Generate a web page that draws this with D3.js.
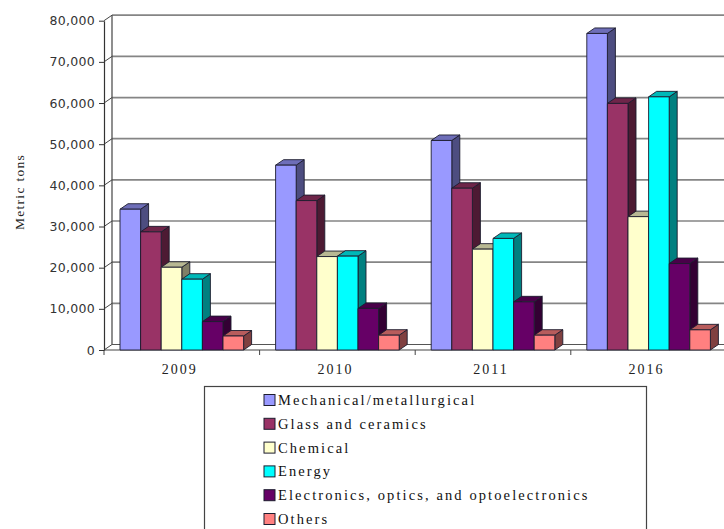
<!DOCTYPE html>
<html>
<head>
<meta charset="utf-8">
<script src="https://cdn.jsdelivr.net/npm/d3@7"></script>
<style>
  html, body { margin: 0; padding: 0; background: #fff; }
  svg { display: block; }
</style>
</head>
<body>
<svg id="chart" width="724" height="529"></svg>
<script>
// Years along the category axis
const years = ["2009", "2010", "2011", "2016"];

// Series names (legend order)
const seriesNames = [
  "Mechanical/metallurgical",
  "Glass and ceramics",
  "Chemical",
  "Energy",
  "Electronics, optics, and optoelectronics",
  "Others"
];

// Metric tons per year, one array per series
const mechanical  = [34200, 44900, 50900, 76900];
const glass       = [28700, 36300, 39300, 59900];
const chemical    = [20100, 22700, 24500, 32400];
const energy      = [17200, 22800, 27100, 61500];
const electronics = [6900, 10100, 11700, 21000];
const others      = [3400, 3600, 3600, 4900];

const seriesValues = [mechanical, glass, chemical, energy, electronics, others];
const seriesColors = ["#9999ff", "#993366", "#ffffcc", "#00ffff", "#660066", "#ff8080"];

// Value axis ticks
const yTicks = [0, 10000, 20000, 30000, 40000, 50000, 60000, 70000, 80000];

const svg = d3.select("#chart");

// Plot frame (front plane) and 3-D depth offset
const plotLeft = 104, plotBottom = 350, plotTop = 20.7;
const bandW = 155.6;
const depthX = 8, depthY = 5.5;
const rightEdge = 740;

const y = d3.scaleLinear().domain([0, 80000]).range([plotBottom, plotTop]);
const x0 = d3.scaleBand().domain(years).range([plotLeft, plotLeft + bandW * years.length]);
const x1 = d3.scaleBand().domain(seriesNames).range([16, bandW - 16]);

const gridColor = "#858585";

// Back wall gridlines with diagonal side-wall segments
const grid = svg.append("g");
yTicks.forEach(t => {
  const yy = y(t);
  if (t !== 0) {
    grid.append("line")
      .attr("x1", plotLeft + depthX).attr("y1", yy - depthY)
      .attr("x2", rightEdge).attr("y2", yy - depthY)
      .attr("stroke", gridColor).attr("stroke-width", 1.7);
  }
  grid.append("line")
    .attr("x1", plotLeft).attr("y1", yy)
    .attr("x2", plotLeft + depthX).attr("y2", yy - depthY)
    .attr("stroke", "#444").attr("stroke-width", 1);
});

// Back wall left edge
grid.append("line")
  .attr("x1", plotLeft + depthX).attr("y1", y(80000) - depthY)
  .attr("x2", plotLeft + depthX).attr("y2", y(0) - depthY)
  .attr("stroke", "#444").attr("stroke-width", 1.2);

// Floor: back and front edges
grid.append("line")
  .attr("x1", plotLeft + depthX).attr("y1", y(0) - depthY)
  .attr("x2", rightEdge).attr("y2", y(0) - depthY)
  .attr("stroke", "#555").attr("stroke-width", 1.2);
grid.append("line")
  .attr("x1", plotLeft).attr("y1", y(0))
  .attr("x2", rightEdge).attr("y2", y(0))
  .attr("stroke", "#444").attr("stroke-width", 1.2);

// Category boundary ticks
const catTicks = years.map(yr => x0(yr)).concat([x0(years[years.length - 1]) + x0.bandwidth()]);
svg.append("g").selectAll("line").data(catTicks).join("line")
  .attr("x1", d => d).attr("x2", d => d)
  .attr("y1", y(0)).attr("y2", y(0) + 5)
  .attr("stroke", "#444").attr("stroke-width", 1);

// 3-D columns: side, top, then front face, drawn left to right
const shade = (c, k) => { const r = d3.rgb(c); return d3.rgb(r.r * k, r.g * k, r.b * k).toString(); };
const bars = [];
years.forEach((yr, i) => {
  seriesNames.forEach((s, j) => {
    bars.push({ year: yr, series: s, value: seriesValues[j][i], color: seriesColors[j] });
  });
});

const barG = svg.append("g");
bars.forEach(b => {
  const xl = x0(b.year) + x1(b.series);
  const w = x1.bandwidth();
  const yt = y(b.value);
  const yb = y(0);
  const g = barG.append("g").attr("stroke", "#1c1c2e").attr("stroke-width", 0.9).attr("stroke-linejoin", "round");
  // side face
  g.append("path")
    .attr("d", `M${xl + w},${yb} L${xl + w + depthX},${yb - depthY} L${xl + w + depthX},${yt - depthY} L${xl + w},${yt} Z`)
    .attr("fill", shade(b.color, 0.5));
  // top face
  g.append("path")
    .attr("d", `M${xl},${yt} L${xl + depthX},${yt - depthY} L${xl + w + depthX},${yt - depthY} L${xl + w},${yt} Z`)
    .attr("fill", shade(b.color, 0.72));
  // front face
  g.append("rect")
    .attr("x", xl).attr("y", yt).attr("width", w).attr("height", yb - yt)
    .attr("fill", b.color);
});

// Value axis on the front plane
const yAxis = d3.axisLeft(y).tickValues(yTicks).tickFormat(d3.format(",")).tickSize(5).tickSizeOuter(0).tickPadding(4);
const ya = svg.append("g").attr("transform", `translate(${plotLeft},0)`).call(yAxis);
ya.select(".domain").attr("stroke", "#333").attr("stroke-width", 1.2);
ya.selectAll(".tick line").attr("stroke", "#333");
ya.selectAll(".tick text")
  .attr("fill", "#333")
  .style("font-family", "'DejaVu Sans', sans-serif")
  .style("font-size", "12.5px")
  .style("letter-spacing", "0.3px");

// Category labels
svg.append("g").selectAll("text").data(years).join("text")
  .attr("x", d => x0(d) + x0.bandwidth() / 2 - 2)
  .attr("y", 374)
  .attr("text-anchor", "middle")
  .attr("fill", "#222")
  .style("font-family", "'Liberation Serif', serif")
  .style("font-size", "14px")
  .style("letter-spacing", "2px")
  .text(d => d);

// Value axis title
svg.append("text")
  .attr("transform", "translate(24,192) rotate(-90)")
  .attr("text-anchor", "middle")
  .attr("fill", "#222")
  .style("font-family", "'Liberation Serif', serif")
  .style("font-size", "13.5px")
  .style("letter-spacing", "1.3px")
  .text("Metric tons");

// Legend
const lg = svg.append("g");
lg.append("rect")
  .attr("x", 204.5).attr("y", 386.5).attr("width", 442).attr("height", 160)
  .attr("fill", "#fff").attr("stroke", "#444").attr("stroke-width", 1.2);
const rowY = d3.scaleLinear().domain([0, seriesNames.length - 1]).range([400, 519]);
seriesNames.forEach((s, j) => {
  const cy = rowY(j);
  lg.append("rect")
    .attr("x", 264).attr("y", cy - 5.5).attr("width", 11).attr("height", 11)
    .attr("fill", seriesColors[j]).attr("stroke", "#1c1c2e").attr("stroke-width", 1);
  lg.append("text")
    .attr("x", 278).attr("y", cy + 5)
    .attr("fill", "#111")
    .style("font-family", "'Liberation Serif', serif")
    .style("font-size", "14.5px")
    .style("letter-spacing", "2.1px")
    .text(s);
});
</script>
</body>
</html>
